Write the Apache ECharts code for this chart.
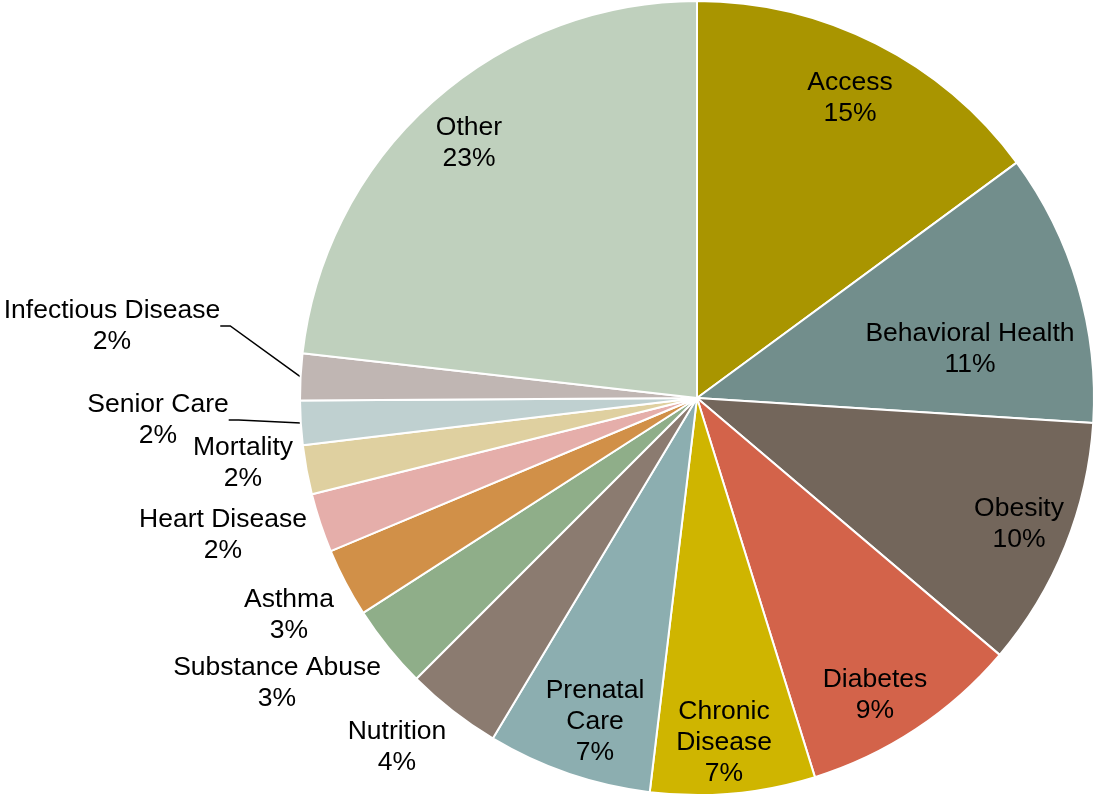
<!DOCTYPE html>
<html>
<head>
<meta charset="utf-8">
<script src="https://cdn.jsdelivr.net/npm/echarts@6/dist/echarts.min.js"></script>
<style>
  html, body { margin: 0; padding: 0; background: #fff; }
  #chart { width: 1099px; height: 799px; }
</style>
</head>
<body>
<div id="chart"></div>
<script>
const categories = ['Access', 'Behavioral Health', 'Obesity', 'Diabetes', 'Chronic Disease', 'Prenatal Care',
  'Nutrition', 'Substance Abuse', 'Asthma', 'Heart Disease', 'Mortality', 'Senior Care', 'Infectious Disease', 'Other']
const shares = [14.9, 11.1, 10.2, 9.0, 6.7, 6.7, 3.9, 3.4, 2.8, 2.4, 2.0, 1.8, 1.9, 23.2]
const colors = ['#a99500', '#728e8c', '#73665b', '#d3634a', '#cfb500', '#8caeb0', '#8b7b70',
  '#8fae89', '#d19048', '#e5aeaa', '#dfd0a0', '#bfd0d0', '#c0b6b3', '#bfd0bd']

// where Excel put each label (center of the text block)
const labelPos = [[850, 98], [970, 349], [1019, 524], [875, 695], [724, 743], [595, 722],
  [397, 747], [277, 683], [289, 615], [223, 535], [243, 463], [158, 420], [112, 326], [469, 143]]
const outsideLabels = ['Nutrition', 'Substance Abuse', 'Asthma', 'Heart Disease', 'Mortality', 'Senior Care', 'Infectious Disease']
const withLeader = ['Senior Care', 'Infectious Disease']
const wrapped = ['Chronic Disease', 'Prenatal Care']

const chart = echarts.init(document.getElementById('chart'))

chart.setOption({
  animation: false,
  textStyle: {
    fontFamily: 'Liberation Sans, Arial, sans-serif',
  },
  series: [
    {
      type: 'pie',
      center: [697, 398],
      radius: 397,
      startAngle: 90,
      clockwise: true,
      avoidLabelOverlap: false,
      percentPrecision: 0,
      itemStyle: {
        borderColor: '#fff',
        borderWidth: 2,
      },
      label: {
        color: '#000',
        fontSize: 26.5,
        lineHeight: 31,
        align: 'center',
        formatter: (p) => {
          const name = wrapped.includes(p.name) ? p.name.replace(' ', '\n') : p.name
          return name + '\n' + p.percent + '%'
        },
      },
      labelLine: {
        lineStyle: { color: '#000', width: 1.5 },
      },
      labelLayout: (params) => {
        const pos = labelPos[params.dataIndex]
        return { x: pos[0], y: pos[1], align: 'center', verticalAlign: 'middle' }
      },
      emphasis: { disabled: true },
      data: categories.map((name, i) => {
        const outside = outsideLabels.includes(name)
        return {
          name,
          value: shares[i],
          itemStyle: { color: colors[i] },
          label: { position: outside ? 'outside' : 'inside' },
          labelLine: { show: withLeader.includes(name), length: 20, length2: 10 },
        }
      }),
    },
  ],
})
</script>
</body>
</html>
